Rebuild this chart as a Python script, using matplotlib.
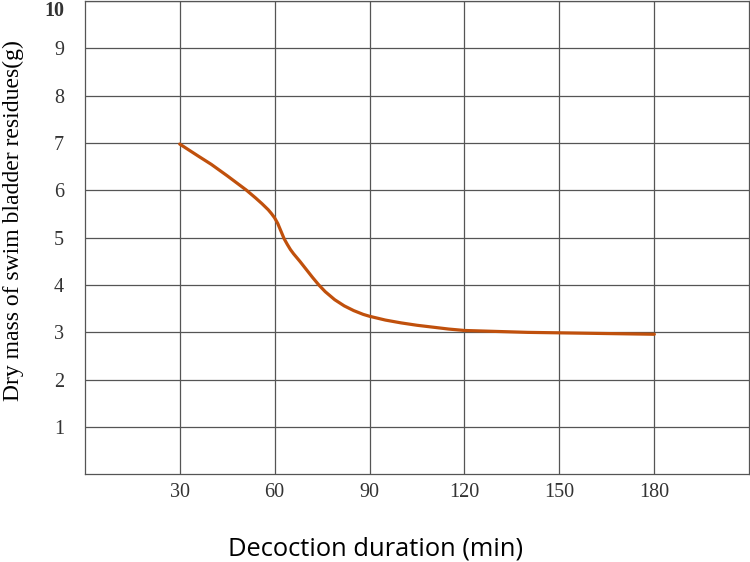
from matplotlib import pyplot as plt

# values
duration = [30, 33, 36, 40, 45, 48, 51, 54, 56, 58, 59, 60, 61, 62, 63, 64, 65, 66, 67, 68, 70,
            72, 74, 76, 79, 82, 85, 88, 90, 95, 100, 105, 110, 115, 120, 130, 140, 150, 165, 180]
dry_mass = [6.98, 6.85, 6.72, 6.55, 6.31, 6.16, 6.01, 5.84, 5.72, 5.59, 5.51, 5.42, 5.30, 5.14,
            4.98, 4.86, 4.75, 4.66, 4.58, 4.50, 4.33, 4.16, 4.00, 3.86, 3.69, 3.56, 3.46, 3.38,
            3.34, 3.26, 3.20, 3.15, 3.11, 3.07, 3.04, 3.02, 3.00, 2.99, 2.975, 2.96]

x_ticks = [30, 60, 90, 120, 150, 180]
y_ticks = [1, 2, 3, 4, 5, 6, 7, 8, 9, 10]

serif = ['Liberation Serif', 'DejaVu Serif']
grid_color = '#555555'


def main():
    fig = plt.figure(figsize=(7.5, 5.62), dpi=100, facecolor='white')
    ax = fig.add_axes([0.113, 0.156, 0.886, 0.842])

    ax.plot(duration, dry_mass, color='#C0500C', linewidth=2.3, solid_capstyle='round',
            solid_joinstyle='round')

    ax.set_xlim(0, 210)
    ax.set_ylim(0, 10)
    ax.set_xticks(x_ticks)
    ax.set_yticks(y_ticks)
    ax.set_xticklabels([str(v) for v in x_ticks], family=serif, fontsize=14.5)
    ax.set_yticklabels([str(v) for v in y_ticks], family=serif, fontsize=14.5)
    top = ax.get_yticklabels()[-1]
    top.set_fontweight('bold')
    top.set_verticalalignment('top')
    ax.tick_params(axis='both', length=0, colors='#333333')
    ax.tick_params(axis='y', pad=15)
    ax.tick_params(axis='x', pad=6)

    ax.grid(True, color=grid_color, linewidth=0.9)
    ax.set_axisbelow(True)
    for sp in ax.spines.values():
        sp.set_color(grid_color)
        sp.set_linewidth(0.9)

    ax.set_ylabel('Dry mass of swim bladder residues(g)', family=serif, fontsize=17)
    ax.yaxis.set_label_coords(-0.092, 0.537)
    ax.set_xlabel('Decoction duration (min)', family=['Open Sans', 'DejaVu Sans'], fontsize=18.4)
    ax.xaxis.set_label_coords(0.437, -0.132)

    fig.savefig('out.png', dpi=100, facecolor='white')


if __name__ == '__main__':
    main()
